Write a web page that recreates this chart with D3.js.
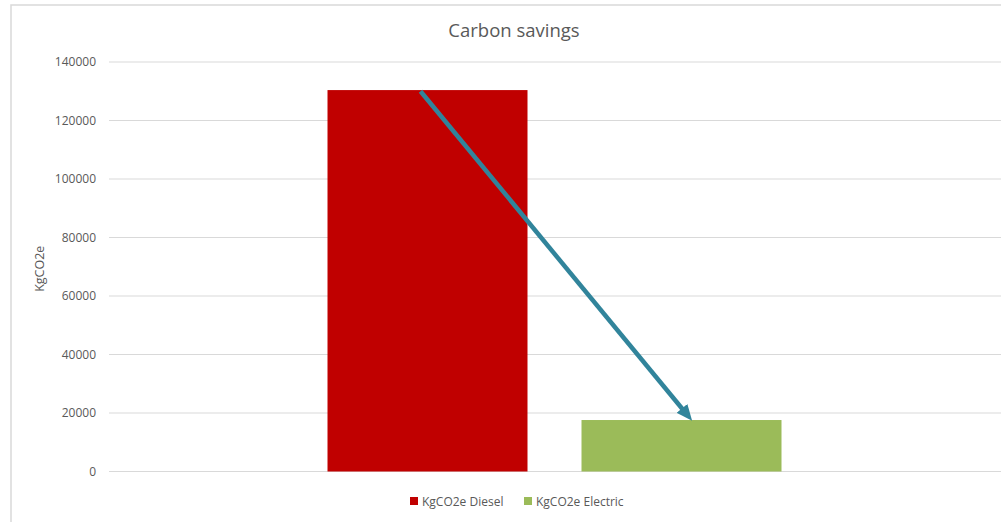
<!DOCTYPE html>
<html>
<head>
<meta charset="utf-8">
<script src="https://cdn.jsdelivr.net/npm/d3@7"></script>
<style>
  html, body { margin: 0; padding: 0; background: #fff; }
  svg { display: block; font-family: "Open Sans", sans-serif; }
</style>
</head>
<body>
<svg id="chart" width="1001" height="522"></svg>
<script>
// ---- data ----
const categories = ["Carbon savings"];
const seriesNames = ["KgCO2e Diesel", "KgCO2e Electric"];
const seriesValues = [130400, 17600];
const seriesColors = ["#C00000", "#9BBB59"];
const yTicks = [0, 20000, 40000, 60000, 80000, 100000, 120000, 140000];
const chartTitle = "Carbon savings";
const yAxisTitle = "KgCO2e";
// annotation arrow: from a point on the Diesel bar to a point on the Electric bar (data space)
const arrowFrom = { series: "KgCO2e Diesel", frac: 0.465, value: 130000 };
const arrowTo = { series: "KgCO2e Electric", frac: 0.55, value: 17600 };

// ---- layout ----
const W = 1001, H = 522;
const plot = { left: 109, right: 1000, top: 62, bottom: 471.5 };
const svg = d3.select("#chart");

// chart area border (left + top)
svg.append("path")
  .attr("d", `M11,${H} V5 H${W}`)
  .attr("fill", "none").attr("stroke", "#D9D9D9").attr("stroke-width", 1.5);

const y = d3.scaleLinear().domain([0, 140000]).range([plot.bottom, plot.top]);
const x0 = d3.scaleBand().domain(categories).range([plot.left, plot.right])
  .paddingInner(0).paddingOuter(0.4813);
const x1 = d3.scaleBand().domain(seriesNames).range([0, x0.bandwidth()])
  .paddingInner(0.2126).paddingOuter(0);

// gridlines
svg.append("g").selectAll("line").data(yTicks).join("line")
  .attr("x1", plot.left).attr("x2", W)
  .attr("y1", d => y(d)).attr("y2", d => y(d))
  .attr("stroke", "#D9D9D9").attr("stroke-width", 1);

// y axis labels via d3 axis
const yAxis = svg.append("g")
  .attr("transform", `translate(${plot.left - 13},0)`)
  .call(d3.axisLeft(y).tickValues(yTicks).tickFormat(d3.format("d")).tickSize(0).tickPadding(0));
yAxis.select(".domain").remove();
yAxis.selectAll("text").attr("fill", "#595959").attr("font-size", 12)
  .attr("font-family", "'Open Sans', sans-serif");

// bars
const g = svg.append("g");
categories.forEach(cat => {
  g.selectAll(null).data(seriesNames.map((s, i) => ({ s, v: seriesValues[i], c: seriesColors[i] })))
    .join("rect")
    .attr("x", d => x0(cat) + x1(d.s))
    .attr("width", x1.bandwidth())
    .attr("y", d => y(d.v))
    .attr("height", d => y(0) - y(d.v))
    .attr("fill", d => d.c);
});

// title
svg.append("text").attr("x", 514).attr("y", 37).attr("text-anchor", "middle")
  .attr("font-size", 18.5).attr("fill", "#595959").text(chartTitle);

// y axis title
svg.append("text")
  .attr("transform", `translate(44,${(plot.top + plot.bottom) / 2 + 2}) rotate(-90)`)
  .attr("text-anchor", "middle").attr("font-size", 12.5).attr("fill", "#595959")
  .text(yAxisTitle);

// arrow
const defs = svg.append("defs");
defs.append("marker").attr("id", "ah")
  .attr("markerUnits", "userSpaceOnUse")
  .attr("viewBox", "0 0 16 14").attr("refX", 15).attr("refY", 7)
  .attr("markerWidth", 16).attr("markerHeight", 14).attr("orient", "auto")
  .append("path").attr("d", "M0,0 L16,7 L0,14 Z").attr("fill", "#31849B");
const cat0 = categories[0];
const ax1 = x0(cat0) + x1(arrowFrom.series) + arrowFrom.frac * x1.bandwidth();
const ay1 = y(arrowFrom.value);
const ax2 = x0(cat0) + x1(arrowTo.series) + arrowTo.frac * x1.bandwidth();
const ay2 = y(arrowTo.value);
const ang = Math.atan2(ay2 - ay1, ax2 - ax1);
svg.append("line")
  .attr("x1", ax1).attr("y1", ay1)
  .attr("x2", ax2 - 12 * Math.cos(ang)).attr("y2", ay2 - 12 * Math.sin(ang))
  .attr("stroke", "#31849B").attr("stroke-width", 4.5);
svg.append("path")
  .attr("d", `M${ax2 - 14 * Math.cos(ang)},${ay2 - 14 * Math.sin(ang)} L${ax2},${ay2}`)
  .attr("stroke", "none").attr("marker-end", "url(#ah)");

// legend
const legend = svg.append("g").attr("transform", "translate(410,501)");
const legendX = [0, 114];
seriesNames.forEach((s, i) => {
  const lg = legend.append("g").attr("transform", `translate(${legendX[i]},0)`);
  lg.append("rect").attr("x", 0).attr("y", -4).attr("width", 8).attr("height", 8).attr("fill", seriesColors[i]);
  lg.append("text").attr("x", 12).attr("y", 4.5).attr("font-size", 12).attr("fill", "#595959").text(s);
});
</script>
</body>
</html>
